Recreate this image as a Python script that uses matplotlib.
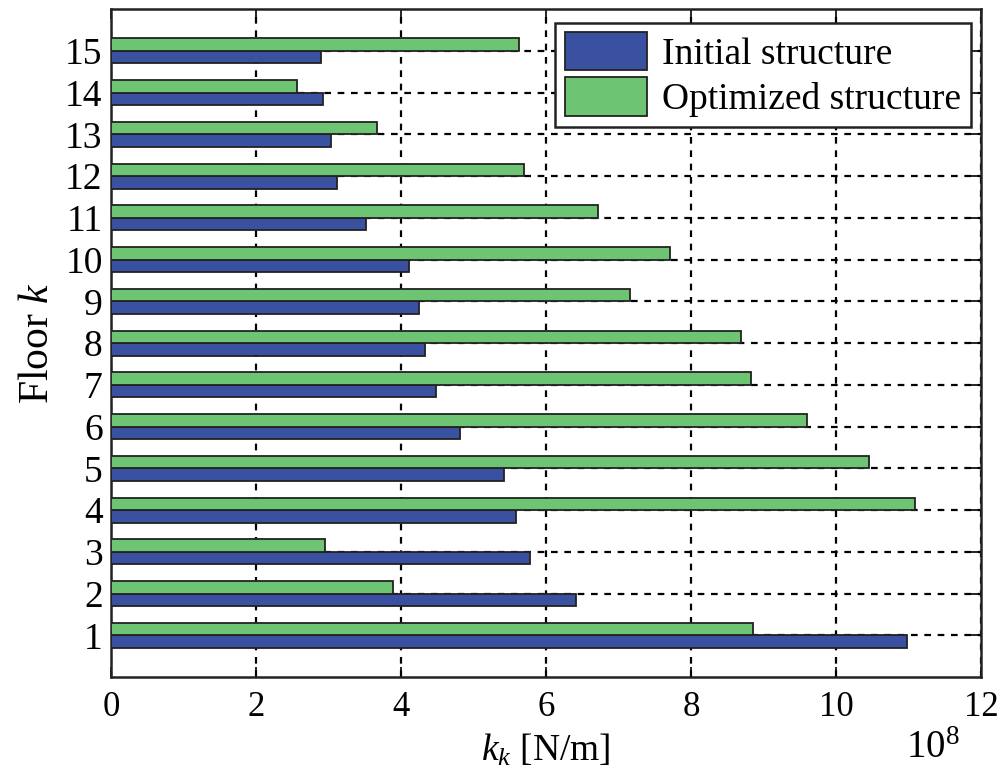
import numpy as np
import matplotlib
matplotlib.use('Agg')
import matplotlib.pyplot as plt

plt.rcParams['font.family'] = ['Liberation Serif', 'DejaVu Serif']
plt.rcParams['mathtext.fontset'] = 'custom'
plt.rcParams['mathtext.rm'] = 'Liberation Serif'
plt.rcParams['mathtext.it'] = 'Liberation Serif:italic'

floors = np.arange(1, 16)
# stiffness in units of 1e8 N/m
initial = [10.98, 6.41, 5.78, 5.59, 5.42, 4.81, 4.48, 4.33, 4.25, 4.11,
           3.51, 3.12, 3.03, 2.93, 2.90]
optimized = [8.85, 3.89, 2.95, 11.09, 10.46, 9.60, 8.83, 8.69, 7.16, 7.71,
             6.72, 5.70, 3.67, 2.56, 5.63]

blue = '#3a50a0'
green = '#6dc473'
edge = '#222222'
h = 0.3

fig = plt.figure(figsize=(10.04, 7.69), dpi=100)
ax = fig.add_axes([0.1106, 0.1196, 0.8665, 0.8684])

ax.barh(floors - h/2, initial, height=h, color=blue, edgecolor=edge,
        linewidth=1.3, label='Initial structure', zorder=3)
ax.barh(floors + h/2, optimized, height=h, color=green, edgecolor=edge,
        linewidth=1.3, label='Optimized structure', zorder=3)

ax.set_xlim(0, 12)
ax.set_ylim(0, 16)
ax.set_xticks(np.arange(0, 13, 2))
ax.set_yticks(floors)
ax.grid(True, color='black', linestyle=(0, (3, 3)), linewidth=1.6, zorder=0)
ax.set_axisbelow(True)

ax.tick_params(direction='in', top=True, right=True, length=7, width=1.2,
               labelsize=25)
ax.tick_params(axis='x', pad=10)
ax.tick_params(axis='y', pad=6, labelsize=27)
for s in ax.spines.values():
    s.set_linewidth(1.8)
    s.set_color('#222222')

ax.set_xlabel(r'$k_k$ [N/m]', fontsize=27, labelpad=6)
ax.set_ylabel(r'Floor $k$', fontsize=30, labelpad=6)
ax.text(0.945, -0.122, r'$10^8$', transform=ax.transAxes, fontsize=28,
        ha='center', va='baseline')

leg = ax.legend(loc='upper right', bbox_to_anchor=(0.988, 0.98), fontsize=27,
                fancybox=False, framealpha=1, edgecolor='#222222',
                handlelength=2.2, handleheight=1.2, borderpad=0.25,
                labelspacing=0.15, handletextpad=0.4, borderaxespad=0)
leg.get_frame().set_linewidth(1.8)

fig.savefig('out.png', dpi=100)
